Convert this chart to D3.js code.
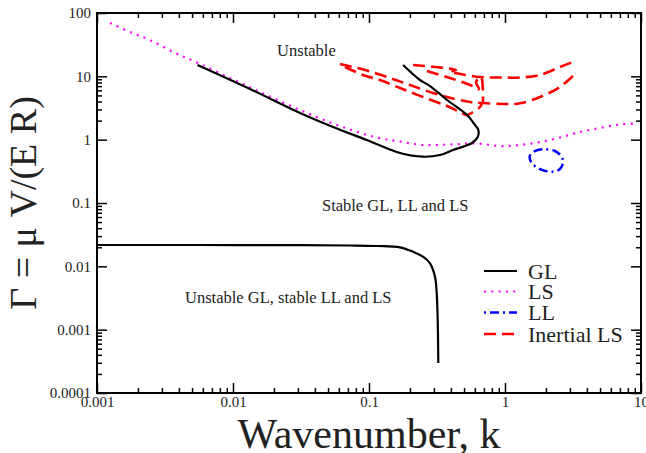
<!DOCTYPE html>
<html>
<head>
<meta charset="utf-8">
<script src="https://cdn.jsdelivr.net/npm/d3@7"></script>
<style>
  html, body { margin: 0; padding: 0; background: #fff; }
  svg { display: block; font-family: "Liberation Serif", "Times New Roman", serif; }
</style>
</head>
<body>
<svg id="chart" width="646" height="453"></svg>
<script>
// Stability diagram: growth parameter Gamma versus wavenumber k (log-log)

// Gradient-limited (GL) boundary, upper branch (folds back at k ~ 0.64)
const glUpper = [
  [0.00548, 15.1], [0.01334, 6.31], [0.0311, 2.64], [0.0544, 1.585], [0.0962, 0.988],
  [0.169, 0.615], [0.2495, 0.538], [0.333, 0.573], [0.415, 0.687], [0.508, 0.794],
  [0.571, 0.885], [0.630, 1.10], [0.637, 1.42], [0.601, 1.71], [0.526, 2.45],
  [0.375, 4.23], [0.281, 7.03], [0.237, 8.75], [0.178, 15.1]
];
// GL boundary, lower branch
const glLower = [
  [0.001, 0.02172], [0.00572, 0.0217], [0.0311, 0.0216], [0.0725, 0.02133], [0.1146, 0.02095],
  [0.169, 0.01998], [0.2106, 0.01702], [0.2495, 0.01419], [0.281, 0.01116], [0.3057, 0.00686],
  [0.3147, 0.00375], [0.3200, 0.00142], [0.3233, 0.000298]
];
// Liquid-solid (LS) boundary
const lsCurve = [
  [0.001246, 69.5], [0.00175, 50.1], [0.00245, 37.5], [0.00375, 23.4], [0.00553, 16.2],
  [0.0095, 9.41], [0.0158, 5.66], [0.0311, 2.94], [0.0612, 1.64], [0.1145, 1.08],
  [0.169, 0.935], [0.2495, 0.823], [0.394, 0.839], [0.622, 0.870], [0.918, 0.794],
  [1.29, 0.823], [1.81, 0.918], [2.54, 1.08], [3.56, 1.32], [5.0, 1.53],
  [7.01, 1.735], [9.35, 1.81]
];
// Liquid-liquid (LL) boundary: small closed loop
const llLoop = [
  [1.514, 0.552], [1.634, 0.650], [1.903, 0.705], [2.332, 0.662], [2.581, 0.552],
  [2.670, 0.444], [2.538, 0.344], [2.216, 0.312], [1.809, 0.344], [1.553, 0.444],
  [1.514, 0.552]
];
// Inertial LS boundaries (several branches)
const inertialA = [
  [0.0612, 15.65], [0.0935, 12.59], [0.1427, 9.41], [0.2002, 7.30], [0.2955, 5.46],
  [0.4289, 4.39], [0.5528, 3.93], [0.6891, 3.79], [0.9667, 3.66], [1.289, 3.75],
  [1.809, 4.72], [2.537, 6.79], [3.271, 10.88]
];
const inertialB = [
  [0.0666, 14.04], [0.0903, 10.50], [0.1204, 8.75], [0.169, 6.54], [0.2495, 4.72],
  [0.3746, 3.40], [0.4667, 2.73], [0.5255, 2.45], [0.5816, 2.73], [0.6548, 3.28],
  [0.6775, 3.79]
];
const inertialC = [
  [0.2106, 15.10], [0.3057, 14.04], [0.4362, 12.59], [0.394, 11.70], [0.4512, 11.08],
  [0.6548, 9.76], [0.9188, 9.58], [1.289, 9.58], [1.809, 10.50], [2.537, 14.04],
  [3.162, 16.84]
];
const inertialD = [
  [0.267, 12.14], [0.394, 9.41], [0.5528, 7.30], [0.6438, 6.31], [0.6119, 8.14],
  [0.666, 9.76], [0.6891, 3.93]
];

// Axis ticks
const xMajor = [0.001, 0.01, 0.1, 1, 10];
const xMajorLabels = ["0.001", "0.01", "0.1", "1", "10"];
const yMajor = [0.0001, 0.001, 0.01, 0.1, 1, 10, 100];
const yMajorLabels = ["0.0001", "0.001", "0.01", "0.1", "1", "10", "100"];
const multipliers = [2, 3, 4, 5, 6, 7, 8, 9];
const xMinorDecades = [0.001, 0.01, 0.1, 1];
const yMinorDecades = [0.0001, 0.01, 1];

// Region labels (anchored at their left end) and legend entries
const regionLabels = [
  { text: "Unstable", k: 0.0211, g: 20.9 },
  { text: "Stable GL, LL and LS", k: 0.0451, g: 0.0748 },
  { text: "Unstable GL, stable LL and LS", k: 0.00444, g: 0.00264 }
];
const legendNames = ["GL", "LS", "LL", "Inertial LS"];

const svg = d3.select("#chart");
const margin = { left: 97, right: 5, top: 13, bottom: 60 };
const W = 646, H = 453;

const x = d3.scaleLog().domain([0.001, 10]).range([margin.left, W - margin.right]);
const y = d3.scaleLog().domain([0.0001, 100]).range([H - margin.bottom, margin.top]);

const xMinor = xMinorDecades.flatMap(d => multipliers.map(m => d * m));
const yMinor = yMinorDecades.flatMap(d => multipliers.map(m => d * m));

function styleAxis(g) {
  g.select(".domain").remove();
  g.selectAll(".tick line").attr("stroke", "#000").attr("stroke-width", 1.5);
  g.selectAll(".tick text").attr("fill", "#222").style("font-size", "15px")
    .style("font-family", "'Liberation Serif', 'Times New Roman', serif");
}

const x0 = margin.left, x1 = W - margin.right, y0 = margin.top, y1 = H - margin.bottom;

// Bottom axis (labels) and minors
svg.append("g").attr("transform", `translate(0,${y1})`)
  .call(d3.axisBottom(x).tickValues(xMajor).tickSize(-10).tickPadding(3)
        .tickFormat((d, i) => xMajorLabels[i]))
  .call(styleAxis);
svg.append("g").attr("transform", `translate(0,${y1})`)
  .call(d3.axisBottom(x).tickValues(xMinor).tickSize(-5).tickFormat(""))
  .call(styleAxis);
// Top axis, mirrored ticks
svg.append("g").attr("transform", `translate(0,${y0})`)
  .call(d3.axisTop(x).tickValues(xMajor).tickSize(-10).tickFormat(""))
  .call(styleAxis);
svg.append("g").attr("transform", `translate(0,${y0})`)
  .call(d3.axisTop(x).tickValues(xMinor).tickSize(-5).tickFormat(""))
  .call(styleAxis);
// Left axis (labels) and minors
svg.append("g").attr("transform", `translate(${x0},0)`)
  .call(d3.axisLeft(y).tickValues(yMajor).tickSize(-10).tickPadding(6)
        .tickFormat((d, i) => yMajorLabels[i]))
  .call(styleAxis);
svg.append("g").attr("transform", `translate(${x0},0)`)
  .call(d3.axisLeft(y).tickValues(yMinor).tickSize(-5).tickFormat(""))
  .call(styleAxis);
// Right axis, mirrored ticks
svg.append("g").attr("transform", `translate(${x1},0)`)
  .call(d3.axisRight(y).tickValues(yMajor).tickSize(-10).tickFormat(""))
  .call(styleAxis);
svg.append("g").attr("transform", `translate(${x1},0)`)
  .call(d3.axisRight(y).tickValues(yMinor).tickSize(-5).tickFormat(""))
  .call(styleAxis);

// Frame
svg.append("rect").attr("x", x0).attr("y", y0).attr("width", x1 - x0).attr("height", y1 - y0)
  .attr("fill", "none").attr("stroke", "#000").attr("stroke-width", 2);

// Curves
const line = d3.line().x(d => x(d[0])).y(d => y(d[1])).curve(d3.curveCatmullRom.alpha(0.5));
const plot = svg.append("g");

const styles = {
  GL: { stroke: "#000", width: 2.2, dash: null },
  LS: { stroke: "#ff00ff", width: 2.2, dash: "2,5.3" },
  LL: { stroke: "#0000ff", width: 2.5, dash: "2,4,9,4" },
  IN: { stroke: "#ff0000", width: 2.6, dash: "12,6" }
};

function drawCurve(data, s) {
  const p = plot.append("path").datum(data).attr("d", line)
    .attr("fill", "none").attr("stroke", s.stroke).attr("stroke-width", s.width)
    .attr("stroke-linejoin", "round");
  if (s.dash) p.attr("stroke-dasharray", s.dash);
}

drawCurve(lsCurve, styles.LS);
[inertialA, inertialB, inertialC, inertialD].forEach(d => drawCurve(d, styles.IN));
drawCurve(llLoop, styles.LL);
drawCurve(glUpper, styles.GL);
drawCurve(glLower, styles.GL);

// Region labels
svg.selectAll("text.region").data(regionLabels).enter().append("text")
  .attr("class", "region")
  .attr("x", d => x(d.k)).attr("y", d => y(d.g))
  .attr("fill", "#222").style("font-size", "16.5px")
  .text(d => d.text);

// Legend
const legendStyles = [styles.GL, styles.LS, styles.LL, styles.IN];
const legendYs = [271, 291.5, 312.5, 334];
const lg = svg.append("g");
legendNames.forEach((name, i) => {
  const s = legendStyles[i];
  const l = lg.append("line").attr("x1", 484).attr("x2", 517)
    .attr("y1", legendYs[i]).attr("y2", legendYs[i])
    .attr("stroke", s.stroke).attr("stroke-width", s.width);
  if (s.dash) l.attr("stroke-dasharray", s.dash);
  lg.append("text").attr("x", 528).attr("y", legendYs[i] + 7.5)
    .attr("fill", "#222").style("font-size", "22px").text(name);
});

// Axis titles
svg.append("text").attr("x", (x0 + x1) / 2).attr("y", 448)
  .attr("text-anchor", "middle").attr("fill", "#222").style("font-size", "42px")
  .text("Wavenumber, k");
svg.append("text").attr("transform", `translate(36,${(y0 + y1) / 2}) rotate(-90)`)
  .attr("text-anchor", "middle").attr("fill", "#222").style("font-size", "38px")
  .text("Γ = μ V/(E R)");
</script>
</body>
</html>
